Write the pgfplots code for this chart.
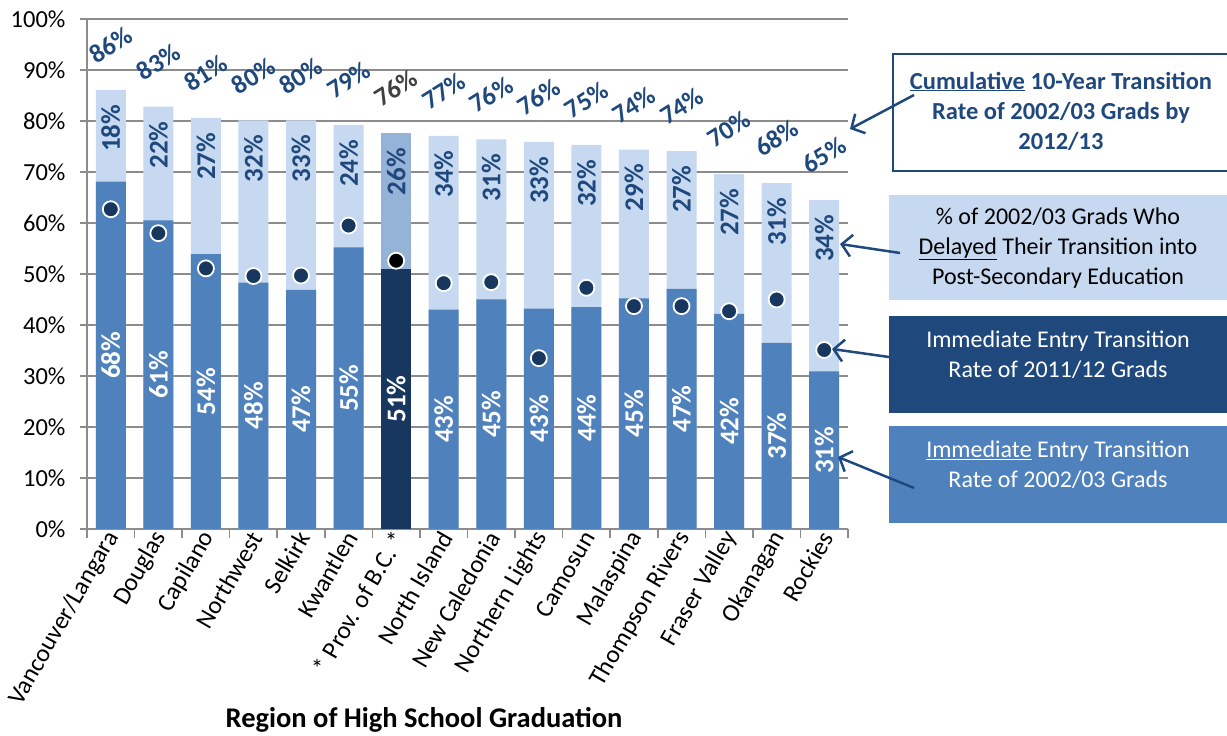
\documentclass[border=0pt]{standalone}
\usepackage{fontspec}
\setmainfont{Carlito}
\usepackage{pgfplots}
\usepackage{pgfplotstable}
\pgfplotsset{compat=1.18}
\usetikzlibrary{arrows.meta}

\definecolor{barblue}{HTML}{4F81BD}
\definecolor{barlight}{HTML}{C6D9F1}
\definecolor{provdark}{HTML}{17375E}
\definecolor{provlight}{HTML}{95B3D7}
\definecolor{navy}{HTML}{1F497D}
\definecolor{gridgray}{HTML}{8C8C8C}
\definecolor{dotblue}{HTML}{17375E}

% x: position, bot: immediate 2002/03, tot: cumulative, dot: immediate 2011/12
\pgfplotstableread{
x  bot   tot   dot   botlab dlylab totlab
0  68.1  86.1  62.7  68 18 86
1  60.5  82.8  58.0  61 22 83
2  53.9  80.6  51.1  54 27 81
3  48.3  80.1  49.6  48 32 80
4  46.9  80.1  49.7  47 33 80
5  55.2  79.2  59.5  55 24 79
7  43.0  77.1  48.2  43 34 77
8  45.0  76.4  48.4  45 31 76
9  43.2  75.9  33.5  43 33 76
10 43.5  75.3  47.3  44 32 75
11 45.2  74.4  43.7  45 29 74
12 47.1  74.1  43.7  47 27 74
13 42.2  69.6  42.7  42 27 70
14 36.5  67.8  45.0  37 31 68
15 30.9  64.5  35.1  31 34 65
}\regions
\pgfplotstableread{
x  bot   tot   dot   botlab dlylab totlab
6  51.0  77.6  52.6  51 26 76
}\prov

\begin{document}
\begin{tikzpicture}
\path[use as bounding box] (-87pt,-207pt) rectangle (1140pt,529pt);
\begin{axis}[
  scale only axis,
  width=761pt, height=510pt,
  xmin=-0.5, xmax=15.5,
  ymin=0, ymax=100,
  axis x line*=bottom, axis y line*=left,
  axis line style={gridgray, line width=1.5pt},
  ytick={0,10,...,100},
  yticklabel={\pgfmathprintnumber{\tick}\%},
  /pgf/number format/assume math mode=true,
  ymajorgrids,
  grid style={gridgray, line width=1.5pt},
  tick align=outside,
  major tick length=7pt,
  minor tick length=9pt,
  tick style={gridgray, line width=1.5pt},
  xtick={0,...,15},
  major x tick style={draw=none},
  minor xtick={-0.5,0.5,...,15.5},
  xticklabels={Vancouver/Langara,Douglas,Capilano,Northwest,Selkirk,Kwantlen,{* Prov. of B.C. *},North Island,New Caledonia,Northern Lights,Camosun,Malaspina,Thompson Rivers,Fraser Valley,Okanagan,Rockies},
  xticklabel style={font=\fontsize{25}{29}\selectfont, rotate=60, anchor=east, xshift=7pt, yshift=-1pt},
  yticklabel style={font=\fontsize{24.5}{28}\selectfont, xshift=-11pt},
  clip=false,
]
% bars: cumulative (light) behind, immediate (dark) in front
\addplot[ybar, bar width=30pt, bar shift=0pt, fill=barlight, draw=none] table[x=x, y=tot] {\regions};
\addplot[ybar, bar width=30pt, bar shift=0pt, fill=provlight, draw=none] table[x=x, y=tot] {\prov};
\addplot[ybar, bar width=30pt, bar shift=0pt, fill=barblue, draw=none] table[x=x, y=bot] {\regions};
\addplot[ybar, bar width=30pt, bar shift=0pt, fill=provdark, draw=none] table[x=x, y=bot] {\prov};

% labels inside the immediate segments
\addplot[only marks, mark=*, mark size=0pt, mark options={draw=none, fill=none}, point meta=explicit,
  nodes near coords={\pgfmathprintnumber{\pgfplotspointmeta}\%},
  every node near coord/.append style={anchor=center, rotate=90, text=white, font=\fontsize{27}{30}\selectfont\bfseries}]
  table[x=x, y expr=\thisrow{bot}/2, meta=botlab] {\regions};
\addplot[only marks, mark=*, mark size=0pt, mark options={draw=none, fill=none}, point meta=explicit,
  nodes near coords={\pgfmathprintnumber{\pgfplotspointmeta}\%},
  every node near coord/.append style={anchor=center, rotate=90, text=white, font=\fontsize{27}{30}\selectfont\bfseries}]
  table[x=x, y expr=\thisrow{bot}/2, meta=botlab] {\prov};

% labels of the delayed segments, near the top of each bar
\addplot[only marks, mark=*, mark size=0pt, mark options={draw=none, fill=none}, point meta=explicit,
  nodes near coords={\pgfmathprintnumber{\pgfplotspointmeta}\%},
  every node near coord/.append style={anchor=east, rotate=90, text=navy, font=\fontsize{27}{30}\selectfont\bfseries}]
  table[x=x, y expr=\thisrow{tot}-2.2, meta=dlylab] {\regions};
\addplot[only marks, mark=*, mark size=0pt, mark options={draw=none, fill=none}, point meta=explicit,
  nodes near coords={\pgfmathprintnumber{\pgfplotspointmeta}\%},
  every node near coord/.append style={anchor=east, rotate=90, text=navy, font=\fontsize{27}{30}\selectfont\bfseries}]
  table[x=x, y expr=\thisrow{tot}-2.2, meta=dlylab] {\prov};

% cumulative totals above the bars
\addplot[only marks, mark=*, mark size=0pt, mark options={draw=none, fill=none}, point meta=explicit,
  nodes near coords={\pgfmathprintnumber{\pgfplotspointmeta}\%},
  every node near coord/.append style={anchor=center, rotate=32, text=navy, font=\fontsize{26}{30}\selectfont\bfseries}]
  table[x=x, y expr=\thisrow{tot}+8.8, meta=totlab] {\regions};
\addplot[only marks, mark=*, mark size=0pt, mark options={draw=none, fill=none}, point meta=explicit,
  nodes near coords={\pgfmathprintnumber{\pgfplotspointmeta}\%},
  every node near coord/.append style={anchor=center, rotate=32, text=black!75, font=\fontsize{26}{30}\selectfont\bfseries}]
  table[x=x, y expr=\thisrow{tot}+8.8, meta=totlab] {\prov};

% immediate entry rate of 2011/12 grads
\addplot[only marks, mark=*, mark size=8pt, mark options={fill=dotblue, draw=white, line width=1.8pt}]
  table[x=x, y=dot] {\regions};
\addplot[only marks, mark=*, mark size=8pt, mark options={fill=black, draw=white, line width=1.8pt}]
  table[x=x, y=dot] {\prov};
\end{axis}

\node[font=\fontsize{28.5}{32}\selectfont\bfseries] at (337pt,-191pt) {Region of High School Graduation};

% legend boxes
\draw[navy, line width=2pt] (806pt,475pt) rectangle (1150pt,358pt);
\node[align=center, text=navy, font=\fontsize{24.5}{30}\selectfont\bfseries] at (974pt,418pt)
  {\underline{Cumulative} 10-Year Transition\\Rate of 2002/03 Grads by\\2012/13};
\fill[barlight] (802pt,334pt) rectangle (1140pt,229pt);
\node[align=center, text=black, font=\fontsize{24}{30}\selectfont] at (971pt,281pt)
  {\% of 2002/03 Grads Who\\\underline{Delayed} Their Transition into\\Post-Secondary Education};
\fill[navy] (802pt,213pt) rectangle (1140pt,116pt);
\node[align=center, text=white, font=\fontsize{24}{30}\selectfont] at (971pt,174pt)
  {Immediate Entry Transition\\Rate of 2011/12 Grads};
\fill[barblue] (802pt,103pt) rectangle (1140pt,6pt);
\node[align=center, text=white, font=\fontsize{24}{30}\selectfont] at (971pt,64pt)
  {\underline{Immediate} Entry Transition\\Rate of 2002/03 Grads};

% arrows
\begin{scope}[navy, line width=2.5pt, -{Straight Barb[length=10pt,width=22pt]}]
\draw (827pt,434pt) -- (763pt,400pt);
\draw (813pt,276pt) -- (753pt,285pt);
\draw (802pt,172pt) -- (745pt,180pt);
\draw (827pt,41pt) -- (751pt,72pt);
\end{scope}
\end{tikzpicture}
\end{document}
